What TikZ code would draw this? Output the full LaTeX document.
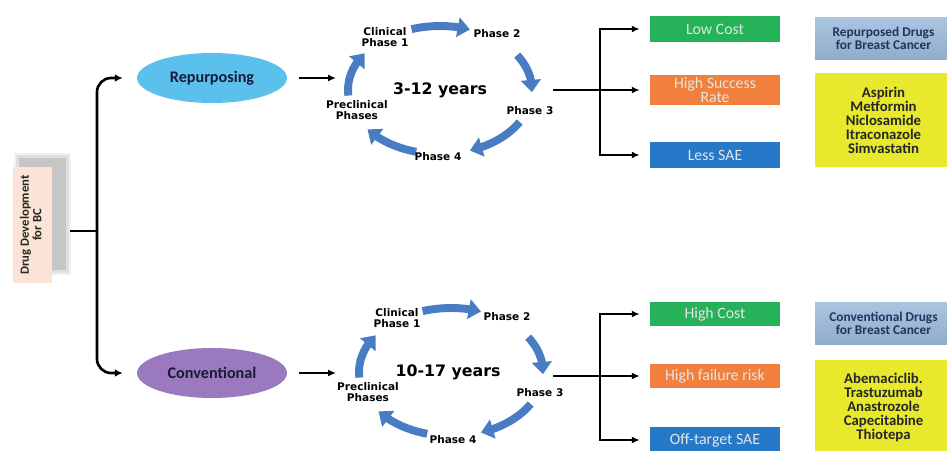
\documentclass[tikz,border=0pt]{standalone}
\usepackage{fontspec}
\setmainfont{Carlito}
\newfontfamily\cycfont{DejaVu Sans}
\usetikzlibrary{arrows.meta,bending,shapes.geometric}
\definecolor{devfill}{RGB}{251,228,213}
\definecolor{repfill}{RGB}{91,192,235}
\definecolor{convfill}{RGB}{155,121,190}
\definecolor{navytext}{RGB}{25,25,60}
\definecolor{cycblue}{RGB}{72,125,195}
\definecolor{propgreen}{RGB}{38,178,88}
\definecolor{proporange}{RGB}{240,128,60}
\definecolor{propblue}{RGB}{38,120,200}
\definecolor{druglist}{RGB}{156,187,218}
\definecolor{drugtext}{RGB}{31,52,96}
\definecolor{druggold}{RGB}{232,232,45}

\begin{document}
\begin{tikzpicture}[x=0.02cm,y=0.02cm,
	line/.style={line width=1.1pt},
	arr/.style={line width=1.1pt,-{Latex[length=4.5pt,width=4pt]}},
	bracepen/.style={line width=1.5pt,-{Latex[length=4.5pt,width=4.5pt]},rounded corners=8},
	cyc/.style={line width=4.5pt,draw=cycblue,-{Triangle[length=7pt,width=11pt]}},
	phase/.style={font=\cycfont\bfseries\fontsize{6}{6.3}\selectfont,align=center,inner sep=0pt},
	years/.style={font=\cycfont\bfseries\fontsize{9}{10}\selectfont,inner sep=0pt},
	route/.style={ellipse,minimum width=3cm,minimum height=1cm,inner sep=0pt,font=\bfseries\fontsize{9.2}{10}\selectfont,text=navytext},
	prop/.style={minimum width=2.6cm,inner sep=0pt,font=\fontsize{9}{8}\selectfont,text=white!90!black,align=center},
	drughead/.style={minimum width=2.74cm,minimum height=0.86cm,inner sep=0pt,top color=druglist!85!white,bottom color=druglist!92!black,text=drugtext,align=center,font=\bfseries\fontsize{7.6}{7.4}\selectfont},
	drugbox/.style={minimum width=2.74cm,inner sep=0pt,fill=druggold,text=black!85,align=center,font=\bfseries\fontsize{8.4}{8}\selectfont}
]
	\useasboundingbox (0,0) rectangle (947,450);

	\fill[gray!10] (14,175) rectangle (71,297);
	\fill[gray!25] (16,177) rectangle (69,295);
	\fill[gray!45] (19,180) rectangle (66,292);
	\node[fill=devfill,minimum width=0.78cm,minimum height=2.32cm,inner sep=0pt,text=black!85,font=\bfseries\fontsize{7.2}{6.8}\selectfont] (dev) at (32.5,225) {\rotatebox{90}{\begin{tabular}{@{}c@{}}Drug Development\\for BC\end{tabular}}};

	\node[route,fill=repfill] (rep) at (212,372) {Repurposing};
	\node[route,fill=convfill] (conv) at (212,77) {Conventional};

	\coordinate (bmid) at (97,219);
	\draw[line width=1.5pt,shorten <=0.36cm] (bmid -| dev.east) -- (bmid);
	\draw[bracepen,shorten >=0.28cm] (bmid) |- (rep.west);
	\draw[bracepen,shorten >=0.28cm] (bmid) |- (conv.west);

	\coordinate (c1in) at (336,372);
	\coordinate (c2in) at (336,77);
	\draw[arr,shorten <=0.24cm] (rep.east) -- (c1in);
	\draw[arr,shorten <=0.24cm] (conv.east) -- (c2in);

	\draw[cyc] (440,360) ++(185:92 and 64) arc[start angle=185,end angle=145,x radius=92,y radius=64];
	\draw[cyc] (440,360) ++(108:92 and 64) arc[start angle=108,end angle=71,x radius=92,y radius=64];
	\draw[cyc] (440,360) ++(33:92 and 64) arc[start angle=33,end angle=-2,x radius=92,y radius=64];
	\draw[cyc] (440,360) ++(-30:92 and 64) arc[start angle=-30,end angle=-71,x radius=92,y radius=64];
	\draw[cyc] (440,360) ++(255:92 and 64) arc[start angle=255,end angle=218,x radius=92,y radius=64];
	\node[phase] (clin1) at (385,413) {Clinical\\Phase 1};
	\node[phase] (ph2a) at (497,416) {Phase 2};
	\node[phase] (ph3a) at (530,339) {Phase 3};
	\node[phase] (ph4a) at (438,293) {Phase 4};
	\node[phase] (pre1) at (357,340) {Preclinical\\Phases};
	\node[years] (yrs1) at (440,360) {3-12 years};

	\draw[cyc] (451,78) ++(185:92 and 64) arc[start angle=185,end angle=145,x radius=92,y radius=64];
	\draw[cyc] (451,78) ++(108:92 and 64) arc[start angle=108,end angle=71,x radius=92,y radius=64];
	\draw[cyc] (451,78) ++(33:92 and 64) arc[start angle=33,end angle=-2,x radius=92,y radius=64];
	\draw[cyc] (451,78) ++(-30:92 and 64) arc[start angle=-30,end angle=-71,x radius=92,y radius=64];
	\draw[cyc] (451,78) ++(255:92 and 64) arc[start angle=255,end angle=218,x radius=92,y radius=64];
	\node[phase] (clin2) at (397,132) {Clinical\\Phase 1};
	\node[phase] (ph2b) at (507,133) {Phase 2};
	\node[phase] (ph3b) at (540,57) {Phase 3};
	\node[phase] (ph4b) at (453,10) {Phase 4};
	\node[phase] (pre2) at (368,58) {Preclinical\\Phases};
	\node[years] (yrs2) at (448,78) {10-17 years};

	\node[prop,fill=propgreen,minimum height=0.52cm] (lowc) at (715,421) {Low Cost};
	\node[prop,fill=proporange,minimum height=0.6cm] (hisr) at (715,360) {High Success\\Rate};
	\node[prop,fill=propblue,minimum height=0.54cm] (lsae) at (715,295) {Less SAE};
	\node[prop,fill=propgreen,minimum height=0.48cm] (hic) at (715,136) {High Cost};
	\node[prop,fill=proporange,minimum height=0.5cm] (hifr) at (715,74) {High failure risk};
	\node[prop,fill=propblue,minimum height=0.52cm] (offt) at (715,10) {Off-target SAE};

	\coordinate (c1out) at (553,360);
	\coordinate (j1) at (600,360);
	\draw[line] (c1out) -- (j1);
	\draw[arr,shorten >=0.2cm] (j1) |- (lowc.west);
	\draw[arr,shorten >=0.2cm] (j1) -- (hisr.west);
	\draw[arr,shorten >=0.2cm] (j1) |- (lsae.west);

	\coordinate (c2out) at (553,74);
	\coordinate (j2) at (600,74);
	\draw[line] (c2out) -- (j2);
	\draw[arr,shorten >=0.2cm] (j2) |- (hic.west);
	\draw[arr,shorten >=0.2cm] (j2) -- (hifr.west);
	\draw[arr,shorten >=0.2cm] (j2) |- (offt.west);

	\node[drughead] (repd) at (883.5,411.5) {Repurposed Drugs\\for Breast Cancer};
	\node[drugbox,minimum height=1.88cm] (replist) at (883.5,330) {Aspirin\\Metformin\\Niclosamide\\Itraconazole\\Simvastatin};
	\node[drughead] (convd) at (883.5,126.5) {Conventional Drugs\\for Breast Cancer};
	\node[drugbox,minimum height=1.9cm] (convlist) at (883.5,42.5) {Abemaciclib.\\Trastuzumab\\Anastrozole\\Capecitabine\\Thiotepa};
\end{tikzpicture}
\end{document}
